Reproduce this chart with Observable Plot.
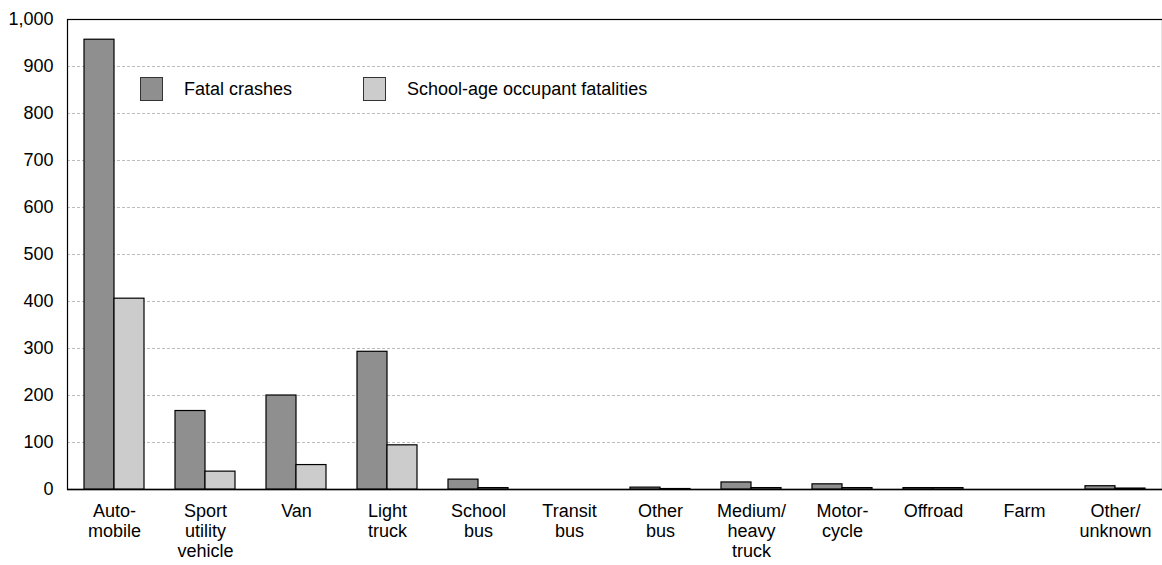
<!DOCTYPE html>
<html>
<head>
<meta charset="utf-8">
<script src="https://cdn.jsdelivr.net/npm/d3@7"></script>
<script src="https://cdn.jsdelivr.net/npm/@observablehq/plot@0.6"></script>
<style>
  body { margin: 0; background: #fff; }
  #wrap { position: relative; width: 1162px; height: 565px; font-family: "Liberation Sans", Arial, sans-serif; color: #000; background: #fff; }
  #wrap svg { position: absolute; left: 0; top: 0; }
  .legend { position: absolute; top: 77px; left: 140px; display: flex; align-items: center; font-size: 18px; }
  .sw { width: 23px; height: 24px; border: 1px solid #333; box-sizing: border-box; }
  .lab { margin-left: 21px; white-space: nowrap; }
</style>
</head>
<body>
<div id="wrap"></div>
<script>
const categories = ["Automobile", "Sport utility vehicle", "Van", "Light truck", "School bus", "Transit bus", "Other bus", "Medium/heavy truck", "Motorcycle", "Offroad", "Farm", "Other/unknown"];
const categoryLabels = ["Auto-\nmobile", "Sport\nutility\nvehicle", "Van", "Light\ntruck", "School\nbus", "Transit\nbus", "Other\nbus", "Medium/\nheavy\ntruck", "Motor-\ncycle", "Offroad", "Farm", "Other/\nunknown"];
const series = ["Fatal crashes", "School-age occupant fatalities"];
const fatalCrashes = [957, 167, 200, 293, 21, 0, 4, 15, 11, 3, 0, 7];
const schoolAgeFatalities = [406, 38, 52, 94, 3, 0, 1, 3, 3, 3, 0, 2];
const yTicks = [0, 100, 200, 300, 400, 500, 600, 700, 800, 900, 1000];
const gridTicks = [100, 200, 300, 400, 500, 600, 700, 800, 900];
const colors = ["#8f8f8f", "#cccccc"];

const data = categories.flatMap((c, i) => [
  {category: c, series: series[0], value: fatalCrashes[i]},
  {category: c, series: series[1], value: schoolAgeFatalities[i]}
]);
const labelOf = new Map(categories.map((c, i) => [c, categoryLabels[i]]));

const common = {
  width: 1162,
  height: 565,
  marginLeft: 67,
  marginRight: 0,
  marginTop: 19,
  marginBottom: 76,
  style: {fontFamily: "'Liberation Sans', Arial, sans-serif", fontSize: "18px", color: "#000", background: "transparent", overflow: "visible"},
  y: {domain: [0, 1000], axis: null}
};

// Background layer: grid, y tick labels, frame, baseline
const back = Plot.plot({
  ...common,
  marks: [
    Plot.ruleY(gridTicks, {stroke: "#bdbdbd", strokeOpacity: 1, strokeDasharray: "3,2"}),
    Plot.text(yTicks, {y: d => d, text: d => d3.format(",")(d), frameAnchor: "left", textAnchor: "end", dx: -14, fill: "#000"}),
    Plot.frame({stroke: "#000", strokeWidth: 1.2}),
    Plot.ruleY([0], {stroke: "#000", strokeWidth: 1.5})
  ]
});

// Foreground layer: grouped bars and category labels
const front = Plot.plot({
  ...common,
  fx: {domain: categories, paddingInner: 0.34, paddingOuter: 0.17, label: null, axis: null},
  x: {domain: series, padding: 0, axis: null},
  color: {domain: series, range: colors},
  marks: [
    Plot.barY(data, {fx: "category", x: "series", y: "value", fill: "series", stroke: "#000", strokeWidth: 1.2}),
    Plot.axisFx({domain: categories, anchor: "bottom", tickSize: 0, tickPadding: 13, tickFormat: c => labelOf.get(c), lineHeight: 1.12, label: null, fill: "#000"})
  ]
});

const wrap = document.getElementById("wrap");
wrap.appendChild(back);
wrap.appendChild(front);

const legend = document.createElement("div");
legend.className = "legend";
series.forEach((s, i) => {
  const sw = document.createElement("div");
  sw.className = "sw";
  sw.style.background = colors[i];
  if (i > 0) sw.style.marginLeft = "71px";
  const lab = document.createElement("span");
  lab.className = "lab";
  lab.textContent = s;
  legend.appendChild(sw);
  legend.appendChild(lab);
});
wrap.appendChild(legend);
</script>
</body>
</html>
